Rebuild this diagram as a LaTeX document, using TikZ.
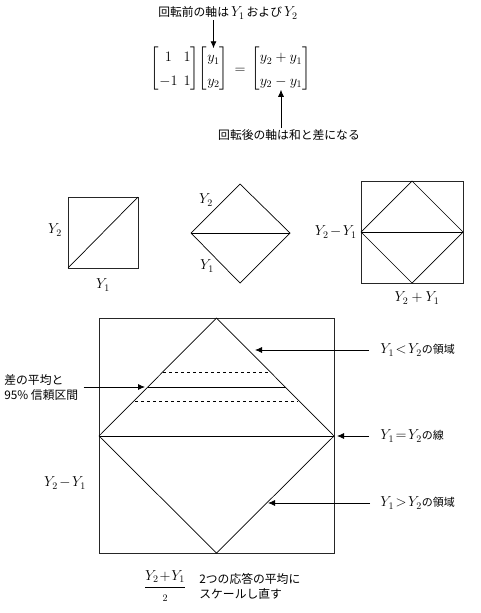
\documentclass[tikz,border=0pt]{standalone}
\usepackage{amsmath}
\usepackage{fontspec}
\newfontfamily\jp{Noto Sans CJK JP}
\usetikzlibrary{arrows.meta}
\newcommand\bigY[1]{{\fontsize{14}{16}\selectfont$#1$}}
\newcommand\tm{\mkern2mu{-}\mkern2mu}
\begin{document}
\begin{tikzpicture}[x=1pt,y=-1pt,line width=0.7pt,
  arr/.style={-{Latex[length=7pt,width=6pt]},line width=0.8pt},
  jplabel/.style={font=\jp\fontsize{11.8}{15}\selectfont,inner sep=1pt},
  jpsmall/.style={font=\jp\fontsize{11}{13}\selectfont,inner sep=1pt},
  mlabel/.style={font=\fontsize{14}{16}\selectfont,inner sep=1pt},
  frame/.style={line width=0.9pt,draw=black!85},
  mat/.style={font=\fontsize{14.5}{18}\selectfont,inner sep=0pt}]
\useasboundingbox (0,0) rectangle (480,613);
% top equation
\node[jplabel] (t1) at (228,13) {回転前の軸は\,\bigY{Y_1}\,および\,\bigY{Y_2}};
\node[mat] (m1) at (175,69) {$\renewcommand\arraystretch{1.3}\setlength\arraycolsep{3pt}\begin{bmatrix}1&1\\-1&1\end{bmatrix}$};
\node[mat] (m2) at (213.5,69) {$\renewcommand\arraystretch{1.3}\setlength\arraycolsep{1pt}\begin{bmatrix}y_1\\y_2\end{bmatrix}$};
\node[mat] (eq) at (240,71) {$=$};
\node[mat] (m3) at (281,69) {$\renewcommand\arraystretch{1.3}\setlength\arraycolsep{1pt}\begin{bmatrix}y_2+y_1\\y_2-y_1\end{bmatrix}$};
\node[jplabel] (t2) at (289,135) {回転後の軸は和と差になる};
\draw[arr] (t1.south -| m2) -- ([yshift=-3pt]m2.north);
\draw[arr] (t2.north -| m3) -- ([yshift=3pt]m3.south);
% second row
\draw[frame] (68,197) rectangle (138,268);
\draw (68,268) -- (138,197);
\node[mlabel] (a2) at (55,230) {$Y_2$};
\node[mlabel] (a1) at (103,285) {$Y_1$};
\draw (191,233) -- (240,184) -- (290,233) -- (240,283) -- cycle;
\draw (191,233) -- (290,233);
\node[mlabel] (b2) at (206,200) {$Y_2$};
\node[mlabel] (b1) at (207,266) {$Y_1$};
\draw[frame] (361,181) rectangle (463,283);
\draw (361,232) -- (412,181) -- (463,232) -- (412,283) -- cycle;
\draw (361,232) -- (463,232);
\node[mlabel,anchor=east] (c1) at (358,232) {$Y_2\tm Y_1$};
\node[mlabel] (c2) at (417,298) {$Y_2+Y_1$};
% big figure
\draw[frame] (99,318) rectangle (334,553);
\draw (99,436) -- (216.5,318) -- (334,436) -- (216.5,553) -- cycle;
\draw[line width=0.9pt] (99,436) -- (334,436);
\draw[line width=0.9pt] (147.5,387) -- (285.5,387);
\draw[dashed] (163,372) -- (270,372);
\draw[dashed] (135,401) -- (298,401);
\coordinate (p1) at (255,350);
\coordinate (p2) at (145,387);
\coordinate (p3) at (337,436);
\coordinate (p4) at (268,503);
\node[jpsmall,anchor=west] (r1) at (379,350) {\bigY{Y_1\mkern2mu{<}\mkern2mu Y_2}の領域};
\node[jplabel,anchor=west,align=left] (r2) at (3,387.5) {差の平均と\\95\% 信頼区間};
\node[jpsmall,anchor=west] (r3) at (379,436) {\bigY{Y_1\mkern2mu{=}\mkern2mu Y_2}の線};
\node[jpsmall,anchor=west] (r4) at (379,503) {\bigY{Y_1\mkern2mu{>}\mkern2mu Y_2}の領域};
\draw[arr,shorten <=10pt] (r1.west) -- (p1);
\draw[arr,shorten <=4pt] (r2.east |- p2) -- (p2);
\draw[arr,shorten <=10pt] (r3.west) -- (p3);
\draw[arr,shorten <=9pt] (r4.west) -- (p4);
\node[mlabel] (d1) at (65,483) {$Y_2\tm Y_1$};
\node[mlabel] (f) at (165,586) {$\genfrac{}{}{1.4pt}{0}{Y_2\mkern1mu{+}\mkern1mu Y_1}{\scriptstyle 2}$};
\node[jplabel,anchor=west,align=left] (r5) at (198,586) {2つの応答の平均に\\スケールし直す};
\end{tikzpicture}
\end{document}
